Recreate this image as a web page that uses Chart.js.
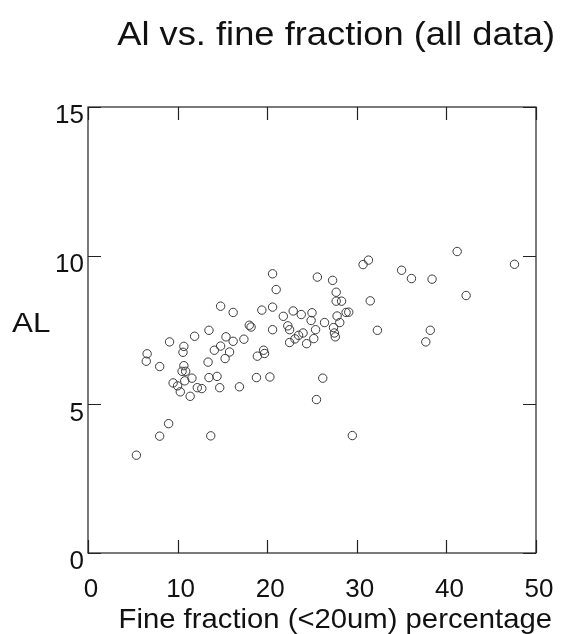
<!DOCTYPE html>
<html>
<head>
<meta charset="utf-8">
<script src="https://cdn.jsdelivr.net/npm/chart.js@4.4.1/dist/chart.umd.min.js"></script>
<style>
  html, body { margin: 0; padding: 0; background: #fff; }
  canvas { display: block; }
</style>
</head>
<body>
<canvas id="c" width="562" height="634"></canvas>
<script>
// ---- data ----
const chartTitle = "Al vs. fine fraction (all data)";
const xAxisTitle = "Fine fraction (<20um) percentage";
const yAxisTitle = "AL";
const xTickValues = [0, 10, 20, 30, 40, 50];
const yTickValues = [0, 5, 10, 15];

const fineFraction = [
  5.4, 8.0, 9.0, 13.7, 29.5, 25.5, 26.2, 6.6, 6.5, 8.0,
  9.1, 10.7, 10.6, 10.7, 10.5, 10.9, 9.5, 10.0, 10.3, 10.8,
  11.6, 11.4, 12.2, 12.7, 11.9, 13.5, 13.4, 13.5, 14.4, 14.7,
  14.1, 14.8, 14.8, 16.2, 15.4, 16.2, 15.8, 15.3, 16.9, 17.4,
  18.0, 18.2, 18.9, 19.6, 19.7, 18.8, 20.3, 19.4, 20.6, 21.0,
  20.6, 20.6, 21.8, 22.9, 23.8, 22.3, 22.5, 22.5, 23.1, 23.5,
  24.0, 24.4, 25.0, 24.9, 25.4, 25.2, 25.6, 26.4, 27.3, 27.7,
  27.7, 28.3, 27.8, 28.1, 27.4, 27.5, 27.6, 28.8, 29.1, 30.7,
  31.3, 31.5, 32.3, 35.0, 36.1, 38.4, 38.2, 37.7, 41.2, 42.2,
  47.6
];
const alValues = [
  3.29, 3.93, 4.35, 3.94, 3.95, 5.16, 5.88, 6.70, 6.45, 6.27,
  7.10, 6.95, 6.75, 6.30, 6.11, 6.11, 5.72, 5.62, 5.42, 5.79,
  5.88, 5.27, 5.56, 5.53, 7.29, 7.49, 6.42, 5.90, 5.94, 5.56,
  6.82, 6.96, 8.30, 8.09, 7.27, 7.12, 6.76, 6.54, 5.59, 7.19,
  7.66, 7.60, 6.62, 6.82, 6.71, 5.90, 5.92, 8.17, 9.39, 8.86,
  8.27, 7.51, 7.96, 8.14, 8.02, 7.64, 7.51, 7.08, 7.20, 7.32,
  7.40, 7.04, 8.08, 7.82, 7.51, 7.21, 9.28, 7.75, 9.17, 8.77,
  8.47, 8.47, 7.97, 7.75, 7.58, 7.40, 7.27, 8.09, 8.10, 9.70,
  9.85, 8.48, 7.49, 9.51, 9.23, 9.21, 7.49, 7.10, 10.14, 8.66,
  9.71
];

const points = fineFraction.map((x, i) => ({ x: x, y: alValues[i] }));
const FONT = "'Liberation Sans', Arial, Helvetica, sans-serif";
const TICK_LEN = 13;

const framePlugin = {
  id: 'frame',
  afterDraw(chart) {
    const ctx = chart.ctx;
    const a = chart.chartArea;
    const xs = chart.scales.x, ys = chart.scales.y;
    ctx.save();
    ctx.strokeStyle = '#222';
    ctx.lineWidth = 1.2;
    ctx.strokeRect(a.left, a.top, a.right - a.left, a.bottom - a.top);
    ctx.beginPath();
    xTickValues.forEach(v => {
      const px = Math.round(xs.getPixelForValue(v)) + 0.5;
      ctx.moveTo(px, a.bottom); ctx.lineTo(px, a.bottom - TICK_LEN);
      ctx.moveTo(px, a.top); ctx.lineTo(px, a.top + TICK_LEN);
    });
    yTickValues.forEach(v => {
      const py = Math.round(ys.getPixelForValue(v)) + 0.5;
      ctx.moveTo(a.left, py); ctx.lineTo(a.left + TICK_LEN, py);
      ctx.moveTo(a.right, py); ctx.lineTo(a.right - TICK_LEN, py);
    });
    ctx.stroke();

    ctx.fillStyle = '#111';
    ctx.textBaseline = 'alphabetic';
    // chart title (slightly wide lettering, as in the scan)
    ctx.save();
    ctx.font = '33px ' + FONT;
    ctx.textAlign = 'right';
    ctx.translate(555, 45);
    ctx.scale(1.1, 1);
    ctx.fillText(chartTitle, 0, 0);
    ctx.restore();
    // x axis title
    ctx.save();
    ctx.font = '28px ' + FONT;
    ctx.textAlign = 'right';
    ctx.translate(552, 628);
    ctx.scale(1.045, 1);
    ctx.fillText(xAxisTitle, 0, 0);
    ctx.restore();
    // y axis title (horizontal)
    ctx.save();
    ctx.font = '28px ' + FONT;
    ctx.textAlign = 'left';
    ctx.translate(12, 332);
    ctx.scale(1.12, 1);
    ctx.fillText(yAxisTitle, 0, 0);
    ctx.restore();
    ctx.restore();
  }
};

new Chart(document.getElementById('c'), {
  type: 'scatter',
  data: {
    datasets: [{
      data: points,
      pointStyle: 'circle',
      pointRadius: 4.2,
      pointHoverRadius: 4.2,
      borderWidth: 1,
      borderColor: '#3a3a3a',
      backgroundColor: 'rgba(0,0,0,0)'
    }]
  },
  options: {
    responsive: false,
    devicePixelRatio: 1,
    animation: false,
    events: [],
    layout: { padding: { left: 0, right: 26, top: 107, bottom: 0 } },
    plugins: {
      legend: { display: false },
      title: { display: false },
      tooltip: { enabled: false }
    },
    scales: {
      x: {
        type: 'linear',
        min: 0, max: 50,
        afterBuildTicks: s => { s.ticks = xTickValues.map(v => ({ value: v })); },
        afterFit: s => { s.height = 81; s.paddingLeft = 0; s.paddingRight = 0; },
        grid: { display: false, drawTicks: false },
        border: { display: false },
        ticks: {
          color: '#111',
          font: { family: FONT, size: 26 },
          padding: 21,
          labelOffset: 3,
          maxRotation: 0,
          autoSkip: false
        }
      },
      y: {
        type: 'linear',
        min: 0, max: 15,
        afterBuildTicks: s => { s.ticks = yTickValues.map(v => ({ value: v })); },
        afterFit: s => { s.width = 88; s.paddingTop = 0; s.paddingBottom = 0; },
        grid: { display: false, drawTicks: false },
        border: { display: false },
        ticks: {
          color: '#111',
          font: { family: FONT, size: 26 },
          padding: 4,
          labelOffset: 9,
          autoSkip: false
        }
      }
    }
  },
  plugins: [framePlugin]
});
</script>
</body>
</html>
